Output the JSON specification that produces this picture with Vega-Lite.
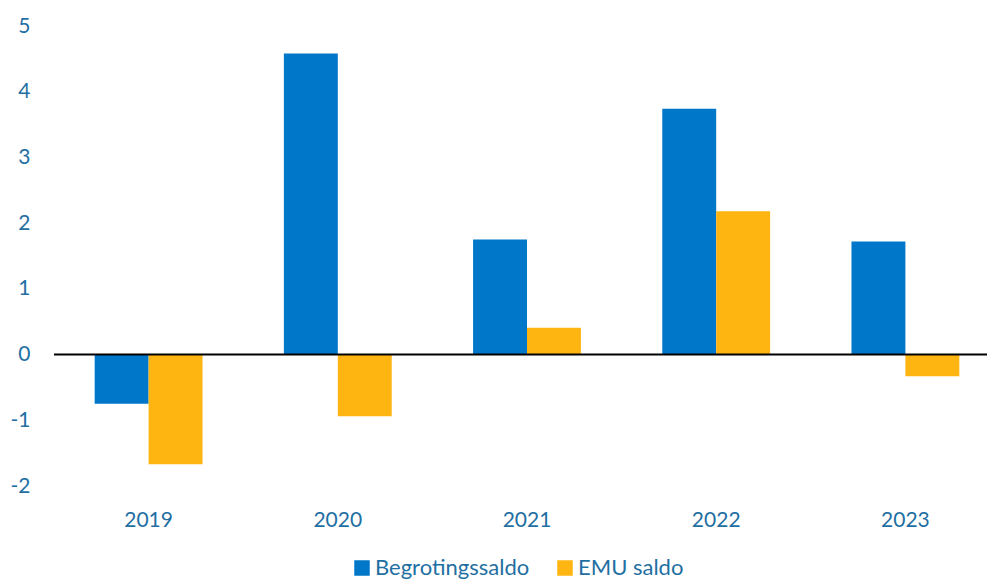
{
  "$schema": "https://vega.github.io/schema/vega-lite/v6.json",
  "autosize": {"type": "none"},
  "width": 946,
  "height": 460,
  "padding": {"left": 54, "top": 26, "right": 0, "bottom": 95},
  "background": "white",
  "config": {
    "view": {"stroke": null},
    "font": "Lato",
    "axis": {"labelFont": "Lato", "labelFontSize": 21, "labelColor": "#1F6FA3", "grid": false, "ticks": false, "domain": false, "title": null}
  },
  "data": {
    "values": [
      {"year": "2019", "series": "Begrotingssaldo", "value": -0.75},
      {"year": "2019", "series": "EMU saldo", "value": -1.67},
      {"year": "2020", "series": "Begrotingssaldo", "value": 4.58},
      {"year": "2020", "series": "EMU saldo", "value": -0.94},
      {"year": "2021", "series": "Begrotingssaldo", "value": 1.75},
      {"year": "2021", "series": "EMU saldo", "value": 0.41},
      {"year": "2022", "series": "Begrotingssaldo", "value": 3.74},
      {"year": "2022", "series": "EMU saldo", "value": 2.18},
      {"year": "2023", "series": "Begrotingssaldo", "value": 1.72},
      {"year": "2023", "series": "EMU saldo", "value": -0.33}
    ]
  },
  "layer": [
    {
      "mark": {"type": "bar"},
      "encoding": {
        "x": {
          "field": "year", "type": "nominal",
          "scale": {"paddingInner": 0.43, "paddingOuter": 0.215},
          "axis": {"labelAngle": 0, "labelPadding": 23, "labelBaseline": "top"}
        },
        "xOffset": {"field": "series", "type": "nominal", "scale": {"paddingInner": 0}},
        "y": {
          "field": "value", "type": "quantitative",
          "scale": {"domain": [-2, 5], "nice": false, "zero": false},
          "axis": {"values": [-2, -1, 0, 1, 2, 3, 4, 5], "labelExpr": "datum.value < 0 ? '-' + abs(datum.value) : '' + datum.value", "labelPadding": 24}
        },
        "color": {
          "field": "series", "type": "nominal",
          "scale": {"domain": ["Begrotingssaldo", "EMU saldo"], "range": ["#0077C8", "#FFB511"]},
          "legend": {
            "title": null,
            "orient": "none",
            "direction": "horizontal",
            "legendX": 297,
            "legendY": 531,
            "symbolType": "square",
            "symbolSize": 240,
            "symbolStrokeWidth": 0,
            "symbolOpacity": 1,
            "labelFontSize": 22,
            "labelFont": "Lato",
            "labelColor": "#1F6FA3",
            "labelOffset": 2,
            "columnPadding": 24
          }
        }
      }
    },
    {
      "data": {"values": [{"y": 0}]},
      "mark": {"type": "rule", "color": "#000000", "strokeWidth": 2},
      "encoding": {"y": {"field": "y", "type": "quantitative"}}
    }
  ]
}
